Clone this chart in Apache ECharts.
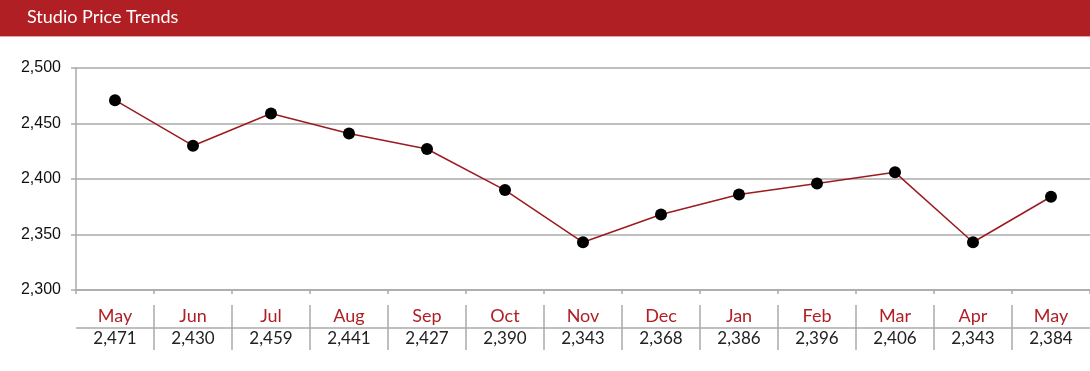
<!DOCTYPE html>
<html><head><meta charset="utf-8">
<script src="https://cdn.jsdelivr.net/npm/echarts@6/dist/echarts.min.js"></script>
<style>html,body{margin:0;padding:0;background:#fff}#c{width:1090px;height:371px}</style>
</head><body><div id="c"></div>
<script>
const titleText = 'Studio Price Trends';
const categories = ['May','Jun','Jul','Aug','Sep','Oct','Nov','Dec','Jan','Feb','Mar','Apr','May'];
const prices = [2471, 2430, 2459, 2441, 2427, 2390, 2343, 2368, 2386, 2396, 2406, 2343, 2384];
const yMin = 2300, yMax = 2500, yStep = 50;

const fmt = v => v.toLocaleString('en-US');
const red = '#b01f24';
const grid = '#aaaaaa';
const chart = echarts.init(document.getElementById('c'), null, {renderer: 'canvas'});
chart.setOption({
  animation: false,
  backgroundColor: '#fff',
  graphic: [
    {type: 'rect', left: 0, top: 0, shape: {width: 1090, height: 36}, style: {fill: red}, z: -1},
    {type: 'rect', left: 0, top: 36, shape: {width: 1090, height: 1}, style: {fill: '#e8a0a2'}, z: -1}
  ],
  title: {
    text: titleText, left: 27, top: 8, padding: 0,
    textStyle: {color: '#fff', fontSize: 18, fontWeight: 'normal', fontFamily: 'Lato, "DejaVu Sans", sans-serif'}
  },
  grid: [
    {left: 76, right: 0, top: 68, height: 222, containLabel: false},
    {left: 76, right: 0, top: 305, height: 45, containLabel: false}
  ],
  xAxis: [
    {
      type: 'category', gridIndex: 0, data: categories, boundaryGap: true,
      axisLine: {show: true, lineStyle: {color: grid, width: 1.5}},
      axisTick: {show: true, interval: 0, length: 4, lineStyle: {color: grid, width: 1.5}},
      axisLabel: {show: false},
      splitLine: {show: false}
    },
    {
      type: 'category', gridIndex: 1, data: categories, position: 'top', boundaryGap: true,
      axisLine: {show: false}, axisTick: {show: false},
      axisLabel: {show: true, inside: true, interval: 0, margin: 2, color: red, fontSize: 18,
        fontFamily: 'Lato, "DejaVu Sans", sans-serif'},
      splitLine: {show: true, interval: 0, showMinLine: false, showMaxLine: false, lineStyle: {color: grid, width: 1.5}}
    },
    {
      type: 'category', gridIndex: 1, data: categories, position: 'bottom', boundaryGap: true,
      axisLine: {show: false}, axisTick: {show: false},
      axisLabel: {show: true, inside: true, interval: 0, margin: 3, color: '#222', fontSize: 17,
        fontFamily: 'Lato, "DejaVu Sans", sans-serif',
        formatter: (v, i) => fmt(prices[i])},
      splitLine: {show: false}
    }
  ],
  yAxis: [
    {
      type: 'value', gridIndex: 0, min: yMin, max: yMax, interval: yStep,
      axisLine: {show: true, lineStyle: {color: grid, width: 1.5}},
      axisTick: {show: true, length: 5, lineStyle: {color: grid, width: 1.5}},
      axisLabel: {margin: 15, color: '#111', fontSize: 16, fontFamily: '"Liberation Sans", Arial, sans-serif',
        formatter: v => fmt(v)},
      splitLine: {show: true, lineStyle: {color: grid, width: 1.5}}
    },
    {
      type: 'value', gridIndex: 1, min: 0, max: 2, interval: 1,
      axisLine: {show: false}, axisTick: {show: false}, axisLabel: {show: false},
      splitLine: {show: true, showMinLine: false, showMaxLine: false, lineStyle: {color: grid, width: 1.5}}
    }
  ],
  series: [{
    type: 'line', xAxisIndex: 0, yAxisIndex: 0, data: prices,
    symbol: 'circle', symbolSize: 12,
    itemStyle: {color: '#000'},
    lineStyle: {color: '#9b1b1f', width: 1.5}
  }]
});
</script></body></html>
